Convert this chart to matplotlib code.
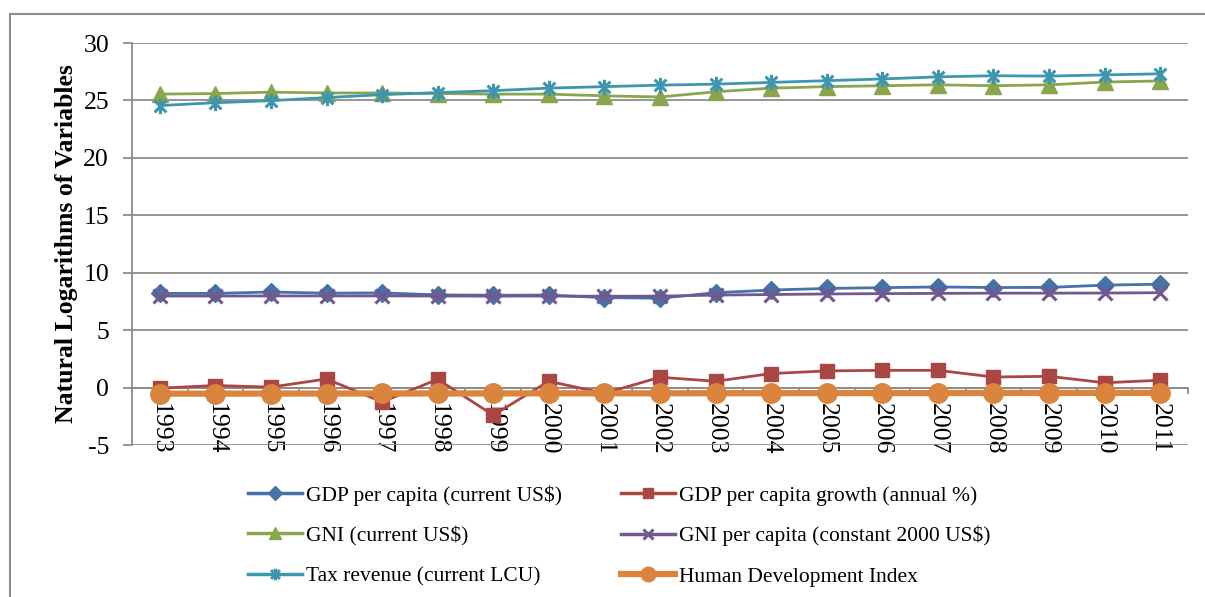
import matplotlib
matplotlib.use("Agg")
import matplotlib.pyplot as plt
from matplotlib.path import Path
from matplotlib.patches import Rectangle
from matplotlib.ticker import FixedLocator

plt.rcParams["font.family"] = ["Liberation Serif", "DejaVu Serif"]

years = [str(y) for y in range(1993, 2012)]

gdp_per_capita = [8.20, 8.20, 8.32, 8.22, 8.24, 8.07, 8.04, 8.05, 7.83, 7.78,
                  8.26, 8.49, 8.63, 8.70, 8.76, 8.71, 8.72, 8.92, 9.00]
gdp_growth = [-0.05, 0.18, 0.04, 0.75, -1.25, 0.72, -2.40, 0.55, -0.50, 0.90,
              0.55, 1.22, 1.45, 1.50, 1.50, 0.92, 0.98, 0.42, 0.64]
gni = [25.55, 25.60, 25.72, 25.65, 25.65, 25.60, 25.55, 25.55, 25.40, 25.30,
       25.75, 26.07, 26.20, 26.28, 26.36, 26.28, 26.36, 26.60, 26.70]
gni_per_capita = [7.97, 7.97, 7.98, 7.98, 7.98, 7.97, 7.96, 7.97, 7.95, 7.96,
                  8.05, 8.10, 8.15, 8.18, 8.20, 8.22, 8.22, 8.23, 8.26]
tax_revenue = [24.55, 24.80, 24.98, 25.25, 25.50, 25.68, 25.85, 26.07, 26.20, 26.33,
               26.42, 26.57, 26.72, 26.87, 27.05, 27.15, 27.12, 27.22, 27.32]
hdi = [-0.53, -0.53, -0.52, -0.52, -0.51, -0.51, -0.51, -0.50, -0.50, -0.50,
       -0.49, -0.49, -0.48, -0.48, -0.48, -0.47, -0.47, -0.46, -0.46]

series_labels = ["GDP per capita (current US$)", "GDP per capita growth (annual %)",
                 "GNI (current US$)", "GNI per capita (constant 2000 US$)",
                 "Tax revenue (current LCU)", "Human Development Index"]

# asterisk marker: an "x" with a vertical bar through it
star = Path([(-1, -1), (1, 1), (-1, 1), (1, -1), (0, -1.3), (0, 1.3)],
            [Path.MOVETO, Path.LINETO, Path.MOVETO, Path.LINETO, Path.MOVETO, Path.LINETO])

W, H = 1205, 597
fig = plt.figure(figsize=(W / 100, H / 100), dpi=100)
ax = fig.add_axes([132 / W, 1 - 445 / H, (1188 - 132) / W, (445 - 43) / H])

x = list(range(len(years)))
grid_c = "#8c8c8c"

styles = [
    dict(data=gdp_per_capita, color="#4572A7", marker="D", ms=9.5, lw=2.0),
    dict(data=gdp_growth, color="#AA4643", marker="s", ms=10.5, lw=2.0),
    dict(data=gni, color="#89A54E", marker="^", ms=11.5, lw=2.0),
    dict(data=gni_per_capita, color="#71588F", marker="x", ms=10, lw=2.0, mew=2.2),
    dict(data=tax_revenue, color="#3D96AE", marker=star, ms=11, lw=2.0, mew=2.2),
    dict(data=hdi, color="#DB843D", marker="o", ms=14, lw=4.5),
]

handles = []
for st, lab in zip(styles, series_labels):
    h, = ax.plot(x, st["data"], color=st["color"], marker=st["marker"],
                 markersize=st["ms"], linewidth=st["lw"],
                 markeredgewidth=st.get("mew", 1.0),
                 markeredgecolor=st["color"], markerfacecolor=st["color"],
                 label=lab, zorder=3)
    handles.append(h)

ax.set_xlim(-0.5, len(years) - 0.5)
ax.set_ylim(-5, 30)
ax.set_yticks(range(-5, 31, 5))
ax.set_yticklabels([str(v) for v in range(-5, 31, 5)], fontsize=18.5)
ax.yaxis.grid(True, color=grid_c, linewidth=1.3, zorder=0)
ax.set_axisbelow(True)

for s in ["top", "right"]:
    ax.spines[s].set_visible(False)
ax.spines["left"].set_color(grid_c)
ax.spines["left"].set_linewidth(1.3)
ax.spines["bottom"].set_position(("data", 0))
ax.spines["bottom"].set_color(grid_c)
ax.spines["bottom"].set_linewidth(1.3)

ax.tick_params(axis="y", direction="out", length=6.5, width=1.3, color=grid_c, pad=10)
ax.set_xticks(x)
ax.set_xticklabels(years, rotation=-90, fontsize=18.5, va="top", ha="center")
ax.tick_params(axis="x", which="major", length=0, pad=11)
ax.xaxis.set_minor_locator(FixedLocator([i - 0.5 for i in range(len(years) + 1)]))
ax.tick_params(axis="x", which="minor", direction="out", length=4, width=1.3, color=grid_c)

ax.set_ylabel("Natural Logarithms of Variables", fontsize=18.5, fontweight="bold", labelpad=4)

# legend laid out row-wise in two columns
order = [0, 2, 4, 1, 3, 5]
leg = fig.legend([handles[i] for i in order], [series_labels[i] for i in order],
                 ncol=2, loc="upper left", bbox_to_anchor=(248 / W, 1 - 485 / H),
                 frameon=False, fontsize=15.5, handlelength=2.5, handletextpad=0.2,
                 columnspacing=2.75, labelspacing=0.95, borderpad=0, borderaxespad=0,
                 markerscale=0.75)
for lh in leg.legend_handles:
    lh.set_linewidth(4.5 if lh.get_linewidth() > 3 else 2.5)

# outer frame
fig.patches.append(Rectangle((10 / W, -0.1), 1.2, 1.1 - 14 / H,
                             transform=fig.transFigure, fill=False,
                             edgecolor="#8c8c8c", linewidth=1.5))

fig.savefig("out.png", dpi=100)
